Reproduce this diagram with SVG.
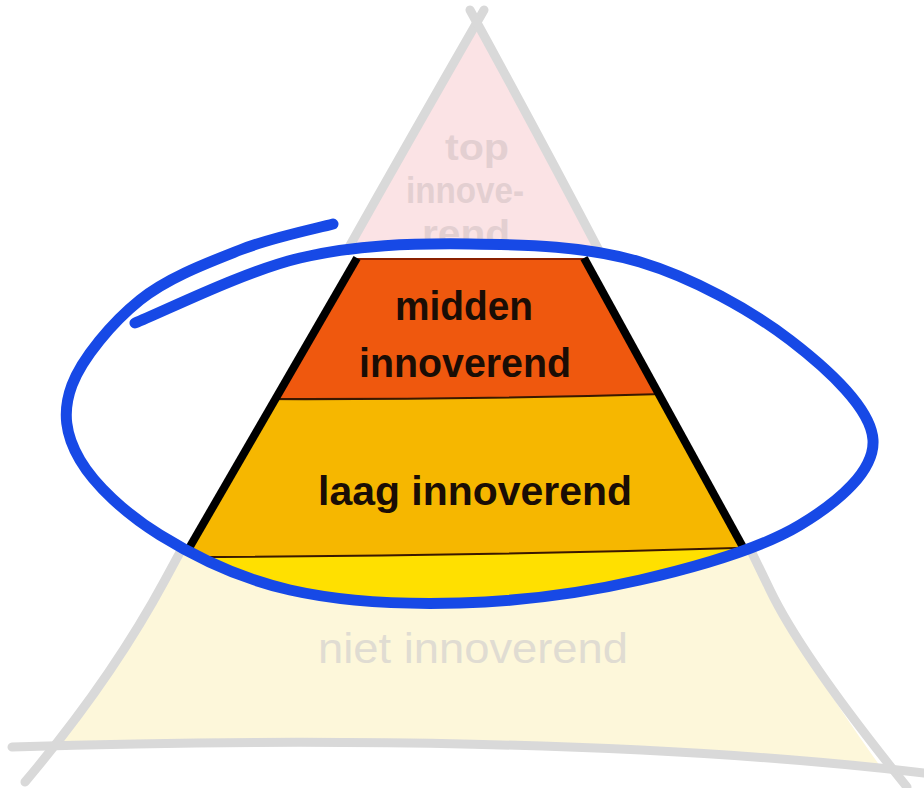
<svg xmlns="http://www.w3.org/2000/svg" width="924" height="788" viewBox="0 0 924 788">
<style>
.gray{fill:none;stroke:#d9d9d9;stroke-width:9;stroke-linecap:round}
.ghost{font-family:"Liberation Sans",Arial,sans-serif;font-weight:bold;fill:#e3cfd1;text-anchor:middle}
.lbl{font-family:"Liberation Sans",Arial,sans-serif;font-weight:bold;fill:#1a0d05;text-anchor:middle}
.div{fill:none;stroke:#3a1800;stroke-width:2}
.side{fill:none;stroke:#000;stroke-width:8}
</style>
<defs>
<clipPath id="inside">
<path d="M135,323 C162.5,312.2 244.2,271.2 300,258 C355.8,244.8 413.3,243.3 470,244 C526.7,244.7 586.7,246 640,262 C693.3,278 751.2,310.3 790,340 C828.8,369.7 871.3,409.2 873,440 C874.7,470.8 838.8,501.7 800,525 C761.2,548.3 696.7,567 640,580 C583.3,593 518.3,601.3 460,603 C401.7,604.7 340,601.3 290,590 C240,578.7 195,556.7 160,535 C125,513.3 94.7,485 80,460 C65.3,435 62,411.7 72,385 C82,358.3 112,322.5 140,300 Z"/>
</clipPath>
<clipPath id="trap">
<path d="M357,258 L584,258 L794,640 L136,640 Z"/>
</clipPath>
<clipPath id="upper"><rect x="0" y="0" width="924" height="420"/></clipPath>
<path id="triFill" d="M477,22 Q300,330 165,580 Q111,680 55,742 C300,736 650,740 880,766 Q802.5,657.5 770,590 Q640,320 477,22 Z"/>
</defs>

<g id="pyramid-background">
<use href="#triFill" fill="#fdf7da"/>
<use href="#triFill" fill="#fbe3e5" clip-path="url(#upper)"/>
</g>

<g id="node-top">
<text class="ghost" x="477" y="160" font-size="36" textLength="64" lengthAdjust="spacingAndGlyphs">top</text>
<text class="ghost" x="465" y="203" font-size="36" textLength="118" lengthAdjust="spacingAndGlyphs">innove-</text>
<text class="ghost" x="466" y="246" font-size="36" textLength="88" lengthAdjust="spacingAndGlyphs">rend</text>
</g>

<g id="node-niet">
<text x="473" y="663" font-family="'Liberation Sans',Arial,sans-serif" font-size="42" fill="#e0dcd2" text-anchor="middle" textLength="310" lengthAdjust="spacingAndGlyphs">niet innoverend</text>
</g>

<g id="pyramid-lines">
<path class="gray" d="M484,10 Q300,330 165,580 Q111,680 25,782"/>
<path class="gray" d="M470,10 Q640,320 770,590 Q802.5,657.5 907,787"/>
<path class="gray" d="M12,747 C300,738 650,740 924,773"/>
</g>

<g id="focus-area">
<path d="M135,323 C162.5,312.2 244.2,271.2 300,258 C355.8,244.8 413.3,243.3 470,244 C526.7,244.7 586.7,246 640,262 C693.3,278 751.2,310.3 790,340 C828.8,369.7 871.3,409.2 873,440 C874.7,470.8 838.8,501.7 800,525 C761.2,548.3 696.7,567 640,580 C583.3,593 518.3,601.3 460,603 C401.7,604.7 340,601.3 290,590 C240,578.7 195,556.7 160,535 C125,513.3 94.7,485 80,460 C65.3,435 62,411.7 72,385 C82,358.3 112,322.5 140,300 Z" fill="#ffffff"/>
<g clip-path="url(#inside)">
<g clip-path="url(#trap)">
<rect x="100" y="240" width="724" height="400" fill="#f6b700"/>
<path d="M250,240 H700 V393 Q470,400 250,399 Z" fill="#ef580e"/>
<path d="M150,557 Q470,557 800,546 V650 H150 Z" fill="#ffe000"/>
<path class="div" d="M250,399 Q470,400 700,393"/>
<path class="div" d="M150,557 Q470,557 800,546"/>
<path d="M357,259 L584,259" stroke="#8a2000" stroke-width="2"/>
</g>
<path class="side" d="M357,258 L166,588"/>
<path class="side" d="M584,258 L766,589"/>
</g>
</g>

<g id="node-midden">
<text class="lbl" x="464" y="320" font-size="40" textLength="138" lengthAdjust="spacingAndGlyphs">midden</text>
<text class="lbl" x="465" y="377" font-size="40" textLength="212" lengthAdjust="spacingAndGlyphs">innoverend</text>
</g>

<g id="node-laag">
<text class="lbl" x="475" y="505" font-size="40" textLength="314" lengthAdjust="spacingAndGlyphs">laag innoverend</text>
</g>

<g id="connectors">
<path d="M135,323 C162.5,312.2 244.2,271.2 300,258 C355.8,244.8 413.3,243.3 470,244 C526.7,244.7 586.7,246 640,262 C693.3,278 751.2,310.3 790,340 C828.8,369.7 871.3,409.2 873,440 C874.7,470.8 838.8,501.7 800,525 C761.2,548.3 696.7,567 640,580 C583.3,593 518.3,601.3 460,603 C401.7,604.7 340,601.3 290,590 C240,578.7 195,556.7 160,535 C125,513.3 94.7,485 80,460 C65.3,435 62,411.7 72,385 C82,358.3 112,322.5 140,300 C168,277.5 207.8,262.7 240,250 C272.2,237.3 317.5,228.3 333,224" fill="none" stroke="#1749e6" stroke-width="11" stroke-linecap="round" stroke-linejoin="round"/>
</g>
</svg>
